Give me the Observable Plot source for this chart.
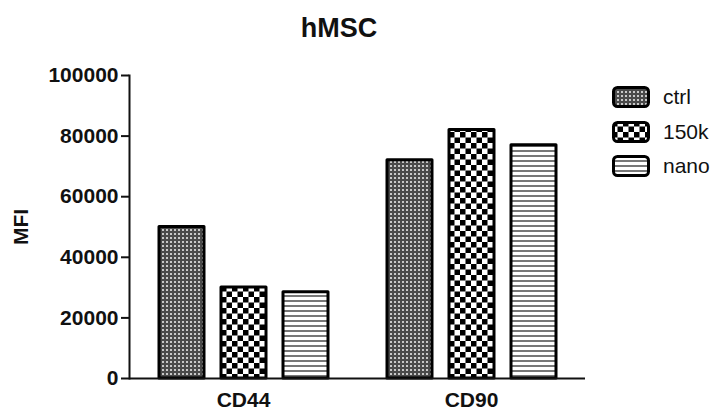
<!DOCTYPE html>
<html>
<head>
<meta charset="utf-8">
<script src="https://cdn.jsdelivr.net/npm/d3@7"></script>
<script src="https://cdn.jsdelivr.net/npm/@observablehq/plot@0.6"></script>
<style>
  html, body { margin: 0; padding: 0; background: #fff; }
  #root { position: relative; width: 723px; height: 410px; overflow: hidden; font-family: "Liberation Sans", Arial, sans-serif; color: #111; }
  #title { position: absolute; left: 239px; top: 15px; width: 200px; text-align: center; font-size: 27px; font-weight: bold; line-height: 27px; }
  #chart { position: absolute; left: 0; top: 0; }
  #legend { position: absolute; left: 612px; top: 86px; }
  .row { display: flex; align-items: center; height: 22px; margin-bottom: 12.5px; }
  .row svg { display: block; }
  .row span { margin-left: 13px; font-size: 21px; line-height: 22px; }
</style>
</head>
<body>
<svg width="0" height="0" style="position:absolute">
  <defs>
    <pattern id="pat-ctrl" patternUnits="userSpaceOnUse" width="4" height="4">
      <rect width="4" height="4" fill="#4a4a4a"></rect>
      <rect x="1" y="1" width="2" height="2" fill="#c8c8c8"></rect>
    </pattern>
    <pattern id="pat-150k" patternUnits="userSpaceOnUse" width="11" height="11">
      <rect width="11" height="11" fill="#fff"></rect>
      <rect x="0" y="0" width="5.5" height="5.5" fill="#000"></rect>
      <rect x="5.5" y="5.5" width="5.5" height="5.5" fill="#000"></rect>
    </pattern>
    <pattern id="pat-nano" patternUnits="userSpaceOnUse" width="5" height="5">
      <rect width="5" height="5" fill="#fff"></rect>
      <rect x="0" y="0" width="5" height="2" fill="#777"></rect>
    </pattern>
  </defs>
</svg>
<div id="root">
  <div id="chart"></div>
  <div id="title">hMSC</div>
  <div id="legend"></div>
</div>
<script>
const groups = ["CD44", "CD90"];
const series = ["ctrl", "150k", "nano"];
const ctrlValues = [50000, 72000];
const k150Values = [30000, 82000];
const nanoValues = [28500, 77000];
const yTicks = [0, 20000, 40000, 60000, 80000, 100000];
const yLabel = "MFI";
const title = "hMSC";

const valuesBySeries = {"ctrl": ctrlValues, "150k": k150Values, "nano": nanoValues};
const data = [];
groups.forEach((g, i) => series.forEach(s => data.push({group: g, series: s, value: valuesBySeries[s][i]})));

const font = "'Liberation Sans', Arial, sans-serif";

const chart = Plot.plot({
  width: 600,
  height: 410,
  marginTop: 75,
  marginBottom: 32,
  marginLeft: 128,
  marginRight: 15,
  style: {fontFamily: font, color: "#111", background: "transparent"},
  fx: {domain: groups, padding: 0, label: null},
  x: {domain: series, paddingInner: 0.278, paddingOuter: 0.473, axis: null},
  y: {domain: [0, 100000], axis: null},
  color: {type: "identity"},
  marks: [
    Plot.barY(data, {
      fx: "group", x: "series", y: "value",
      fill: d => `url(#pat-${d.series})`,
      stroke: "#000", strokeWidth: 3, strokeLinejoin: "round"
    }),
    Plot.ruleY([0], {stroke: "#111", strokeWidth: 2}),
    Plot.frame({anchor: "left", facetAnchor: "left", stroke: "#111", strokeWidth: 2}),
    Plot.axisY({
      ticks: yTicks, tickSize: 8, tickPadding: 3, stroke: "#111", strokeWidth: 2, strokeOpacity: 1,
      tickFormat: d => String(d), fontSize: 21, fontWeight: "bold",
      label: yLabel, labelAnchor: "center", labelOffset: 116, labelArrow: "none"
    }),
    Plot.axisFx({
      anchor: "bottom", tickSize: 0, tickPadding: 14, fontSize: 21, fontWeight: "bold", label: null
    })
  ]
});
chart.querySelectorAll("text").forEach(t => {
  if (t.textContent === yLabel) { t.setAttribute("font-size", "21"); t.setAttribute("font-weight", "bold"); }
});
document.getElementById("chart").appendChild(chart);
document.getElementById("title").textContent = title;

const legend = document.getElementById("legend");
series.forEach(s => {
  const row = document.createElement("div");
  row.className = "row";
  row.innerHTML = `<svg width="38" height="22"><rect x="1.5" y="1.5" width="35" height="19" rx="4" ry="4" fill="url(#pat-${s})" stroke="#000" stroke-width="3"></rect></svg><span>${s}</span>`;
  legend.appendChild(row);
});
</script>
</body>
</html>
